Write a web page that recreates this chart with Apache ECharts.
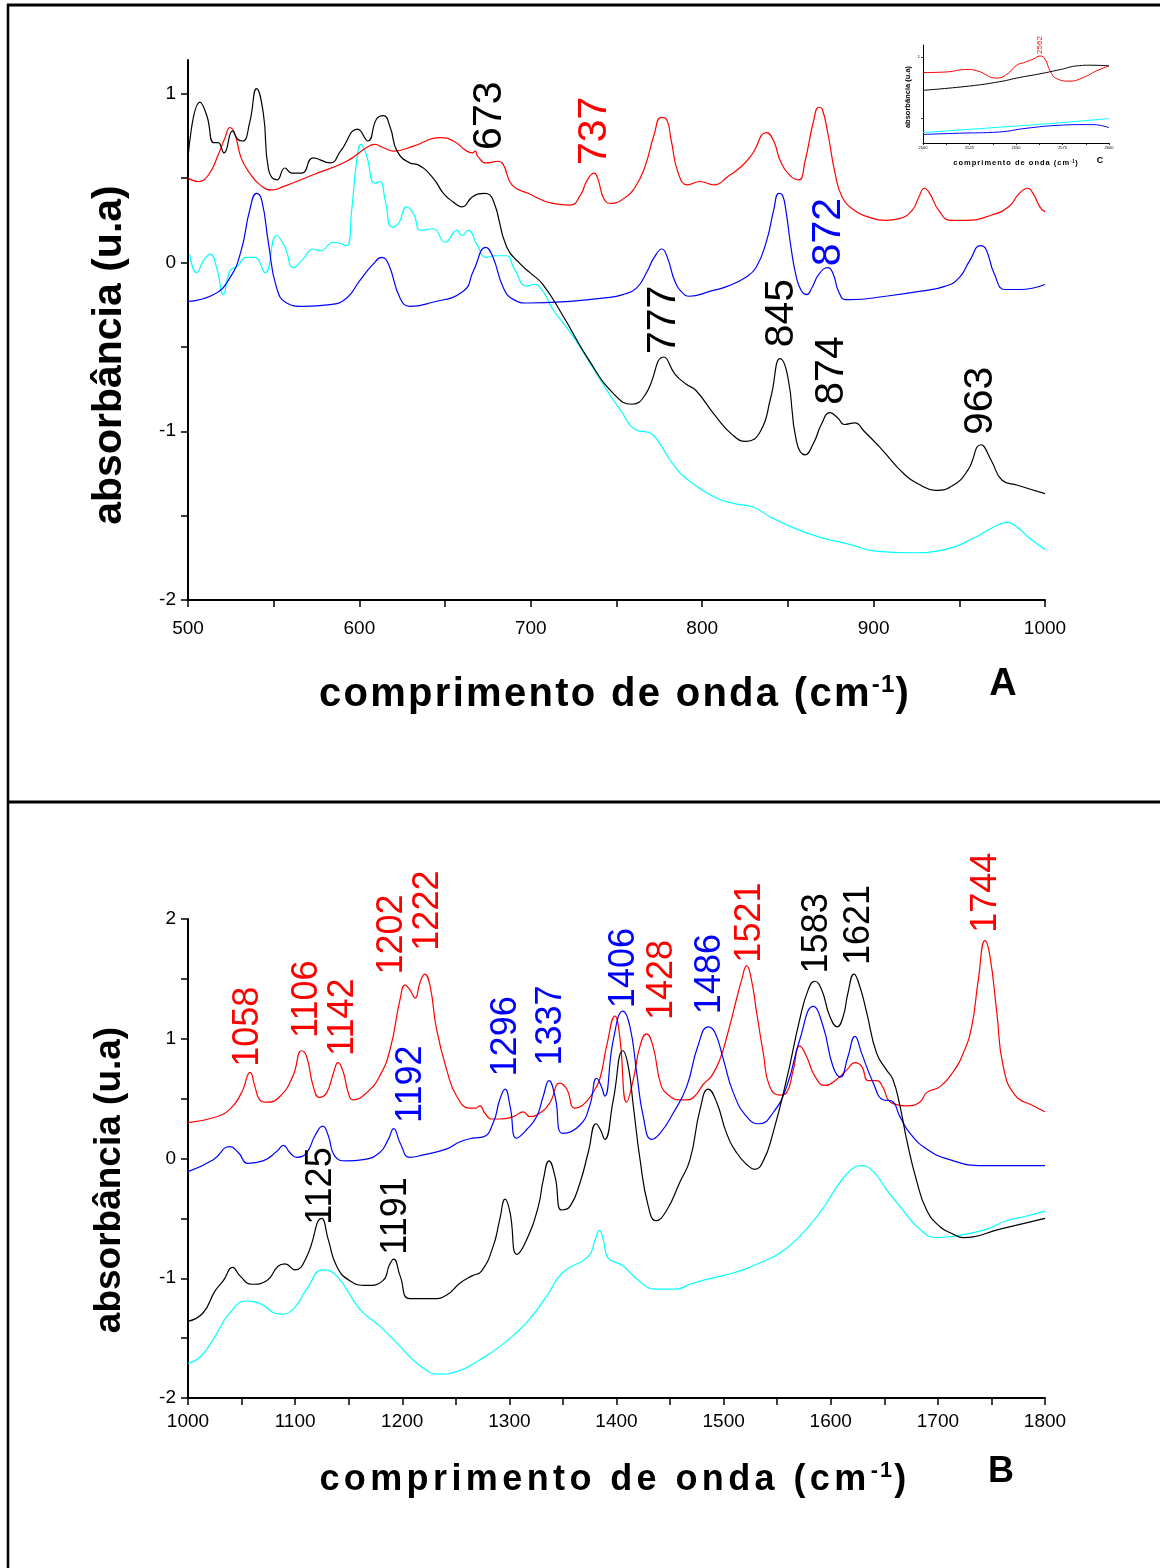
<!DOCTYPE html>
<html>
<head>
<meta charset="utf-8">
<script src="https://cdn.jsdelivr.net/npm/echarts@6/dist/echarts.min.js"></script>
<style>
  html, body { margin: 0; padding: 0; background: #fff; }
  #chart { width: 1160px; height: 1568px; }
</style>
</head>
<body>
<div id="chart"></div>
<script>
// ---------- painel A : 500 - 1000 cm-1 ----------
const aBlack = [[500,0.62],[507,0.95],[511,0.87],[515,0.71],[517.5,0.71],[521,0.65],[526,0.78],[529,0.73],[532,0.72],[536,0.83],[540,1.03],[544,0.88],[547,0.55],[552,0.49],[556.5,0.56],[560.5,0.53],[566.5,0.53],[573,0.62],[583,0.59],[589,0.66],[599,0.79],[605,0.72],[610,0.85],[614,0.87],[618,0.80],[622,0.66],[629.5,0.59],[634,0.58],[643,0.50],[649,0.41],[654.5,0.36],[660,0.33],[666,0.39],[673,0.41],[678,0.37],[686,0.09],[694,-0.01],[699.5,-0.06],[707,-0.13],[719,-0.32],[734,-0.58],[748.5,-0.78],[759,-0.84],[767,-0.78],[777.7,-0.56],[784,-0.66],[790.5,-0.72],[796.5,-0.76],[807,-0.90],[817.5,-1.02],[825.5,-1.06],[834,-1.00],[840,-0.80],[845.5,-0.57],[850,-0.68],[855,-1.06],[860,-1.14],[865,-1.07],[869.5,-0.96],[874.5,-0.89],[879,-0.92],[883,-0.96],[889,-0.95],[894.5,-1.00],[905,-1.11],[917.5,-1.25],[927.5,-1.32],[936,-1.35],[946.5,-1.32],[955,-1.23],[962.6,-1.08],[968.5,-1.17],[975,-1.29],[984,-1.32],[1000,-1.37]];
const aRed = [[500,0.50],[506,0.48],[512,0.52],[517.7,0.64],[521.6,0.74],[524.5,0.80],[527.4,0.76],[531,0.62],[536,0.53],[542,0.46],[549,0.43],[555.6,0.45],[573,0.52],[592.6,0.60],[604,0.68],[609,0.70],[614,0.68],[620,0.66],[631.5,0.69],[647,0.74],[654.8,0.72],[662.6,0.66],[666,0.65],[667.5,0.66],[669,0.63],[674,0.59],[681,0.60],[684,0.58],[689,0.46],[698.4,0.41],[712.7,0.35],[723,0.34],[729,0.40],[733,0.49],[737,0.53],[739,0.50],[743,0.37],[747.5,0.35],[755.7,0.39],[759.8,0.43],[766,0.55],[772,0.76],[776,0.86],[779,0.85],[782,0.72],[786,0.53],[791.5,0.46],[798.7,0.48],[807,0.46],[815,0.51],[823,0.57],[829,0.64],[837.6,0.77],[841.7,0.72],[845.7,0.60],[851.8,0.51],[856.4,0.49],[860,0.60],[865,0.84],[868,0.92],[870,0.91],[873.4,0.76],[877.5,0.53],[881.6,0.39],[888.7,0.31],[896.8,0.27],[907,0.25],[915,0.26],[922.5,0.31],[926.5,0.39],[929.6,0.44],[932.7,0.41],[937.9,0.31],[945,0.25],[954,0.25],[968.5,0.28],[978.8,0.33],[985,0.41],[990,0.44],[993,0.41],[997,0.33],[1000,0.30]];
const aBlue = [[500,-0.23],[515,-0.19],[524.5,-0.09],[531,0.07],[536,0.31],[540,0.41],[543,0.37],[547,0.11],[551.7,-0.15],[557.6,-0.24],[567,-0.26],[583,-0.25],[592.6,-0.21],[600,-0.11],[608,-0.01],[613,0.03],[617,-0.01],[623.7,-0.21],[629.5,-0.26],[641,-0.24],[660.6,-0.17],[666.5,-0.05],[673.8,0.09],[678,0.03],[684,-0.15],[690,-0.22],[698.4,-0.24],[723,-0.23],[743,-0.21],[753.7,-0.19],[761.8,-0.15],[768,-0.05],[772,0.03],[776.5,0.08],[780,0.02],[784,-0.11],[788.5,-0.18],[792.5,-0.20],[804.8,-0.17],[815,-0.14],[825,-0.09],[831.4,-0.03],[837.6,0.13],[841.7,0.31],[844.7,0.41],[846.8,0.40],[848.8,0.31],[851.8,0.09],[855,-0.09],[858,-0.17],[861,-0.19],[864,-0.15],[868,-0.07],[873.4,-0.03],[876.5,-0.07],[879.5,-0.17],[883.6,-0.22],[886.6,-0.22],[907,-0.20],[927.6,-0.17],[942,-0.14],[950,-0.09],[956,0.01],[962.4,0.10],[965.5,0.08],[970.5,-0.07],[976.6,-0.16],[985,-0.16],[1000,-0.13]];
const aCyan = [[501,0.05],[505,-0.06],[509,0.01],[513,0.05],[516.7,-0.03],[520.6,-0.19],[524.5,-0.05],[529,-0.02],[534,0.03],[539,0.03],[545,-0.06],[551.7,0.16],[556.6,0.09],[561.5,-0.03],[567,0.02],[573,0.08],[577,0.07],[585,0.12],[592.6,0.10],[595.5,0.31],[598.4,0.60],[601,0.70],[604,0.64],[609,0.47],[612,0.48],[615,0.37],[619,0.21],[622.7,0.23],[627.6,0.33],[631.5,0.29],[636,0.19],[643,0.20],[650,0.12],[657,0.19],[659.7,0.16],[663.5,0.19],[668.4,0.11],[674,0.03],[679,0.04],[686,0.04],[690,-0.03],[697.7,-0.14],[702,-0.13],[707,-0.17],[713,-0.28],[723.5,-0.42],[736,-0.62],[744.5,-0.76],[752.7,-0.88],[761,-0.99],[769.5,-1.01],[773.6,-1.05],[784,-1.21],[792,-1.29],[807,-1.39],[819.5,-1.43],[830,-1.45],[840,-1.51],[855,-1.58],[869.5,-1.63],[886,-1.67],[901,-1.71],[921.6,-1.72],[942,-1.70],[959,-1.63],[969.6,-1.57],[978,-1.54],[984,-1.57],[990.5,-1.63],[1000,-1.70]];

const aPeaks = ['673', '737', '872', '777', '845', '874', '963'];
const aPeakAt = [[676.2,0.87],[737.5,0.78],[874,0.18],[777.7,-0.34],[846.5,-0.30],[875.7,-0.64],[962.7,-0.82]];
const aPeakColor = ['#000', '#f00', '#00f', '#000', '#000', '#000', '#000'];

// ---------- painel B : 1000 - 1800 cm-1 ----------
const bRed = [[1000,0.30],[1023.6,0.34],[1039,0.41],[1050,0.55],[1058,0.72],[1062.5,0.60],[1067,0.49],[1073.5,0.47],[1086,0.52],[1098,0.69],[1106,0.90],[1110.8,0.85],[1117,0.60],[1122.6,0.51],[1129.5,0.55],[1136,0.72],[1140,0.80],[1145,0.72],[1149.6,0.55],[1154,0.49],[1166.8,0.55],[1179,0.69],[1188.6,0.91],[1198,1.33],[1202.6,1.45],[1207,1.41],[1212,1.34],[1216.6,1.47],[1221,1.54],[1226,1.44],[1232,1.08],[1241.5,0.74],[1250.8,0.52],[1263,0.42],[1268,0.42],[1272.6,0.44],[1277,0.38],[1283.5,0.33],[1291,0.33],[1303.7,0.35],[1313,0.39],[1319,0.35],[1328.6,0.38],[1338,0.47],[1347,0.63],[1353.5,0.58],[1361,0.42],[1369,0.45],[1378,0.55],[1384.6,0.67],[1390.8,0.94],[1398.6,1.19],[1403,1.02],[1409.5,0.47],[1415.7,0.66],[1422,0.94],[1428,1.04],[1434,0.94],[1442,0.60],[1450,0.52],[1457.7,0.49],[1465.5,0.49],[1473,0.52],[1481,0.62],[1488.8,0.69],[1496.6,0.83],[1504,1.05],[1512,1.33],[1516.8,1.49],[1521.5,1.61],[1526,1.49],[1530.8,1.22],[1537,0.88],[1543,0.60],[1552.6,0.53],[1558.8,0.55],[1565,0.74],[1571,0.94],[1577.5,0.85],[1585,0.69],[1594.6,0.61],[1605.5,0.66],[1615,0.74],[1622.6,0.80],[1628.8,0.77],[1635,0.65],[1642.8,0.65],[1649,0.59],[1653.7,0.49],[1661.5,0.45],[1670.8,0.44],[1683,0.47],[1689.5,0.55],[1702,0.60],[1714,0.72],[1723.7,0.88],[1731.5,1.10],[1737.7,1.49],[1744,1.82],[1748.6,1.69],[1755,1.22],[1761,0.77],[1772,0.53],[1789,0.44],[1800,0.39]];
const bBlue = [[1000,-0.11],[1023.6,-0.01],[1039,0.10],[1047,0.05],[1056,-0.04],[1070,-0.02],[1083,0.06],[1089,0.11],[1095,0.05],[1101.5,0.01],[1110.8,0.05],[1118.5,0.19],[1125.7,0.27],[1131,0.19],[1137,0.02],[1148,-0.02],[1163.6,-0.01],[1179,0.05],[1187,0.16],[1192,0.25],[1198,0.13],[1207,0.01],[1219.6,0.03],[1241.5,0.08],[1254,0.14],[1266,0.17],[1275.6,0.18],[1285,0.30],[1291,0.49],[1296,0.58],[1300.6,0.44],[1306.8,0.17],[1316,0.24],[1325.5,0.35],[1331.6,0.52],[1337,0.65],[1342.6,0.52],[1350,0.21],[1366,0.28],[1375,0.44],[1381.5,0.67],[1386,0.60],[1389,0.52],[1397,0.99],[1406,1.23],[1412.6,1.10],[1418.8,0.72],[1425,0.35],[1432.8,0.16],[1440.6,0.21],[1453,0.38],[1465.5,0.60],[1476,0.94],[1485.7,1.10],[1492,1.05],[1499.7,0.83],[1509,0.55],[1521.5,0.35],[1533,0.29],[1546,0.38],[1558.8,0.60],[1571,0.99],[1583.7,1.27],[1593,1.10],[1602,0.77],[1609,0.68],[1616,0.85],[1622.6,1.02],[1628.8,0.88],[1639.7,0.63],[1649,0.49],[1656.8,0.48],[1664.6,0.35],[1674,0.21],[1689.5,0.08],[1711,-0.01],[1742,-0.06],[1800,-0.06]];
const bBlack = [[1000,-1.36],[1014,-1.29],[1025,-1.11],[1033,-1.02],[1041.7,-0.91],[1048.5,-0.98],[1059.5,-1.05],[1073.5,-1.02],[1084,-0.90],[1090.5,-0.88],[1100,-0.93],[1110.8,-0.82],[1124.8,-0.50],[1131,-0.68],[1138.8,-0.90],[1151,-1.02],[1166.8,-1.06],[1182,-1.02],[1188,-0.89],[1192,-0.84],[1198,-0.98],[1207,-1.17],[1229,-1.17],[1241.5,-1.14],[1254,-1.04],[1265,-0.98],[1274,-0.94],[1285,-0.73],[1291,-0.51],[1296,-0.34],[1300.6,-0.45],[1307,-0.80],[1316,-0.68],[1327,-0.40],[1331.6,-0.18],[1337,-0.02],[1342.6,-0.15],[1348.8,-0.43],[1356.6,-0.40],[1366,-0.20],[1373.6,0.05],[1381,0.29],[1385,0.24],[1389,0.16],[1397,0.49],[1406,0.90],[1411,0.77],[1415.7,0.44],[1422,-0.01],[1429.7,-0.40],[1436.8,-0.52],[1447,-0.43],[1459,-0.20],[1468.6,-0.01],[1478,0.41],[1485.7,0.58],[1493.5,0.47],[1502.8,0.21],[1512,0.05],[1521.5,-0.05],[1529,-0.09],[1537,-0.02],[1546,0.21],[1558.8,0.66],[1571,1.16],[1579,1.41],[1585,1.48],[1591.5,1.41],[1599,1.19],[1606,1.10],[1611.7,1.19],[1616,1.38],[1621.7,1.54],[1627,1.44],[1633.5,1.22],[1642.8,0.88],[1652,0.74],[1658,0.66],[1664.6,0.44],[1670.8,0.16],[1680,-0.18],[1689.5,-0.43],[1702,-0.57],[1714,-0.63],[1723.7,-0.66],[1758,-0.59],[1800,-0.50]];
const bCyan = [[1000,-1.71],[1011,-1.66],[1023.6,-1.51],[1039,-1.29],[1055,-1.19],[1067,-1.21],[1086,-1.30],[1098,-1.26],[1110.8,-1.09],[1126,-0.93],[1138.8,-0.98],[1160.5,-1.26],[1179,-1.40],[1194.8,-1.54],[1216.6,-1.73],[1235,-1.80],[1250.8,-1.78],[1272.6,-1.68],[1294,-1.55],[1316,-1.37],[1334.8,-1.15],[1350,-0.95],[1373.6,-0.82],[1380,-0.68],[1384,-0.60],[1387.7,-0.68],[1392,-0.83],[1405,-0.89],[1422,-1.03],[1436,-1.09],[1456,-1.09],[1468.6,-1.05],[1484,-1.01],[1502.8,-0.97],[1518,-0.93],[1534,-0.87],[1552.6,-0.79],[1571,-0.65],[1590,-0.45],[1608.6,-0.20],[1621,-0.08],[1628.8,-0.06],[1639.7,-0.11],[1652,-0.26],[1664.6,-0.40],[1683,-0.59],[1699,-0.66],[1714,-0.65],[1727,-0.63],[1745.5,-0.59],[1764,-0.52],[1783,-0.48],[1800,-0.44]];

const bPeaks = ['1058', '1106', '1142', '1202', '1222', '1192', '1125', '1191', '1296', '1337', '1406', '1428', '1486', '1521', '1583', '1621', '1744'];
const bPeakAt = [[1056,1.10],[1111,1.33],[1144.7,1.18],[1190.4,1.87],[1224,2.07],[1208,0.62],[1124,-0.23],[1194,-0.48],[1296.8,1.02],[1338.8,1.11],[1407,1.59],[1443,1.49],[1487,1.54],[1524.6,1.97],[1587,1.88],[1626,1.95],[1745,2.22]];
const bPeakColor = ['#f00', '#f00', '#f00', '#f00', '#f00', '#00f', '#000', '#000', '#00f', '#00f', '#00f', '#f00', '#00f', '#f00', '#000', '#000', '#f00'];

// ---------- inserto C : 2500 - 2600 cm-1 ----------
const cRed = [[2500,0.75],[2512.7,0.76],[2523.5,0.80],[2528.9,0.78],[2539.6,0.66],[2545,0.72],[2550.4,0.87],[2554,0.91],[2559.3,0.97],[2562.9,1.02],[2565.6,0.97],[2568.3,0.78],[2571.9,0.65],[2579,0.61],[2586.2,0.67],[2593.4,0.78],[2600,0.86]];
const cBlack = [[2500,0.46],[2525,0.53],[2541,0.60],[2552,0.67],[2563,0.73],[2574,0.80],[2583,0.86],[2590,0.87],[2600,0.86]];
const cCyan = [[2500,-0.23],[2537.6,-0.15],[2573.5,-0.07],[2600,0.00]];
const cBlue = [[2500,-0.26],[2519.7,-0.24],[2541,-0.22],[2555.4,-0.16],[2573.5,-0.11],[2586,-0.10],[2591.5,-0.10],[2600,-0.15]];
const cPeaks = ['2562'];
const cPeakAt = [[2562.9,1.20]];
const cPeakColor = ['#f00'];

const aYTicks = [-2, -1.5, -1, -0.5, 0, 0.5, 1];
const aYLabels = [-2, -1, 0, 1];

const FONT = "'Liberation Sans', Arial, Helvetica, sans-serif";

// texto com espaçamento entre letras (cada letra vira um token rich)
function spaced(parts) {
  return parts.map(([txt, st]) => txt.split('').map(ch => `{${st}|${ch === ' ' ? '\u00a0' : ch}}`).join('')).join('');
}

function xTitle(x, y, size, sp) {
  return {
    type: 'text', x: x, y: y, z: 10,
    style: {
      text: spaced([['comprimento de onda (cm', 't'], ['-1', 's'], [')', 't']]),
      align: 'center', verticalAlign: 'middle',
      rich: {
        t: { fontFamily: FONT, fontWeight: 'bold', fontSize: size, lineHeight: size * 1.1, padding: [0, sp, 0, 0], fill: '#000' },
        s: { fontFamily: FONT, fontWeight: 'bold', fontSize: size * 0.6, lineHeight: size * 0.6, padding: [0, sp * 0.5, 0, 0], verticalAlign: 'top', fill: '#000' }
      }
    }
  };
}

function plainText(x, y, txt, size, rot) {
  return {
    type: 'text', x: x, y: y, rotation: rot || 0, z: 10,
    style: { text: txt, fontFamily: FONT, fontWeight: 'bold', fontSize: size, fill: '#000', align: 'center', verticalAlign: 'middle' }
  };
}

function curve(data, color, grid, w) {
  return {
    type: 'line', xAxisIndex: grid, yAxisIndex: grid, data: data,
    showSymbol: false, symbol: 'none', smooth: 0.5,
    lineStyle: { color: color, width: w }, itemStyle: { color: color },
    silent: true, z: 3
  };
}

function peakSeries(names, pos, colors, grid, size) {
  return {
    type: 'scatter', xAxisIndex: grid, yAxisIndex: grid, symbolSize: 1, clip: false, silent: true, z: 5,
    itemStyle: { color: 'rgba(0,0,0,0)', opacity: 1 },
    label: {
      show: true, position: 'inside', rotate: 90, formatter: '{b}',
      fontFamily: FONT, fontSize: size, color: '#000', textBorderWidth: 0, textBorderColor: 'transparent'
    },
    data: names.map((n, i) => ({ name: n, value: pos[i], label: { color: colors[i] } }))
  };
}

const axisLine = { show: true, onZero: false, lineStyle: { color: '#000', width: 2 } };
const tickStyle = { color: '#000', width: 1.5 };
const plainNum = v => String(v);

function xAxisCfg(grid, min, max, margin) {
  return {
    type: 'value', gridIndex: grid, min: min, max: max, interval: 100,
    axisLine: axisLine,
    axisTick: { show: true, length: 7, lineStyle: tickStyle },
    minorTick: { show: true, splitNumber: 2, length: 7, lineStyle: tickStyle },
    splitLine: { show: false },
    axisLabel: { color: '#000', fontFamily: FONT, fontSize: 19, margin: margin, formatter: plainNum }
  };
}

const myChart = echarts.init(document.getElementById('chart'));
myChart.setOption({
  animation: false,
  backgroundColor: '#fff',
  grid: [
    { left: 188, right: 115, top: 60, height: 540 },
    { left: 188, right: 115, top: 919, height: 479 },
    { left: 923, width: 186, top: 45, height: 98 }
  ],
  xAxis: [
    xAxisCfg(0, 500, 1000, 19),
    xAxisCfg(1, 1000, 1800, 14),
    {
      type: 'value', gridIndex: 2, min: 2500, max: 2600, interval: 25,
      axisLine: { show: true, onZero: false, lineStyle: { color: '#000', width: 1 } },
      axisTick: { show: true, length: 2, lineStyle: { color: '#000', width: 0.8 } },
      minorTick: { show: true, splitNumber: 2, length: 2, lineStyle: { color: '#000', width: 0.8 } },
      splitLine: { show: false },
      axisLabel: { color: '#000', fontFamily: FONT, fontSize: 4, margin: 3, formatter: plainNum }
    }
  ],
  yAxis: [
    {
      type: 'value', gridIndex: 0, min: -2, max: 1.2, interval: 0.5,
      axisLine: axisLine,
      axisTick: { show: true, length: 7, lineStyle: tickStyle, customValues: aYTicks },
      splitLine: { show: false },
      axisLabel: { color: '#000', fontFamily: FONT, fontSize: 19, margin: 12, customValues: aYLabels }
    },
    {
      type: 'value', gridIndex: 1, min: -2, max: 2, interval: 1,
      axisLine: axisLine,
      axisTick: { show: true, length: 7, lineStyle: tickStyle },
      minorTick: { show: true, splitNumber: 2, length: 7, lineStyle: tickStyle },
      splitLine: { show: false },
      axisLabel: { color: '#000', fontFamily: FONT, fontSize: 19, margin: 12 }
    },
    {
      type: 'value', gridIndex: 2, min: -0.4, max: 1.2,
      axisLine: { show: true, onZero: false, lineStyle: { color: '#000', width: 1 } },
      axisTick: { show: true, length: 2, lineStyle: { color: '#000', width: 0.8 }, customValues: [0, 1] },
      splitLine: { show: false },
      axisLabel: { color: '#000', fontFamily: FONT, fontSize: 4, margin: 3, customValues: [1] }
    }
  ],
  series: [
    curve(aCyan, '#00ffff', 0, 1.2),
    curve(aRed, '#ff0000', 0, 1.2),
    curve(aBlue, '#0000ff', 0, 1.2),
    curve(aBlack, '#000000', 0, 1.2),
    curve(bCyan, '#00ffff', 1, 1.2),
    curve(bRed, '#ff0000', 1, 1.2),
    curve(bBlue, '#0000ff', 1, 1.2),
    curve(bBlack, '#000000', 1, 1.2),
    curve(cRed, '#ff0000', 2, 1),
    curve(cBlack, '#000000', 2, 1),
    curve(cCyan, '#00ffff', 2, 1),
    curve(cBlue, '#0000ff', 2, 1),
    peakSeries(aPeaks, aPeakAt, aPeakColor, 0, 41),
    peakSeries(bPeaks, bPeakAt, bPeakColor, 1, 36),
    peakSeries(cPeaks, cPeakAt, cPeakColor, 2, 8)
  ],
  graphic: [
    // molduras
    { type: 'line', shape: { x1: 7, y1: 5, x2: 1160, y2: 5 }, style: { stroke: '#000', lineWidth: 3 } },
    { type: 'line', shape: { x1: 8, y1: 4, x2: 8, y2: 1568 }, style: { stroke: '#000', lineWidth: 2.5 } },
    { type: 'line', shape: { x1: 7, y1: 802, x2: 1160, y2: 802 }, style: { stroke: '#000', lineWidth: 3 } },
    // títulos
    plainText(110, 355, 'absorbância (u.a)', 41, Math.PI / 2),
    xTitle(615, 695, 40, 2.3),
    plainText(1003, 685, 'A', 38),
    plainText(110, 1180, 'absorbância (u.a)', 37, Math.PI / 2),
    xTitle(615, 1480, 36, 4.4),
    plainText(1001, 1472, 'B', 36),
    plainText(908, 97, 'absorbância (u.a)', 7.5, Math.PI / 2),
    xTitle(1016, 163, 7.5, 1),
    plainText(1100, 161, 'C', 9)
  ]
});
</script>
</body>
</html>
